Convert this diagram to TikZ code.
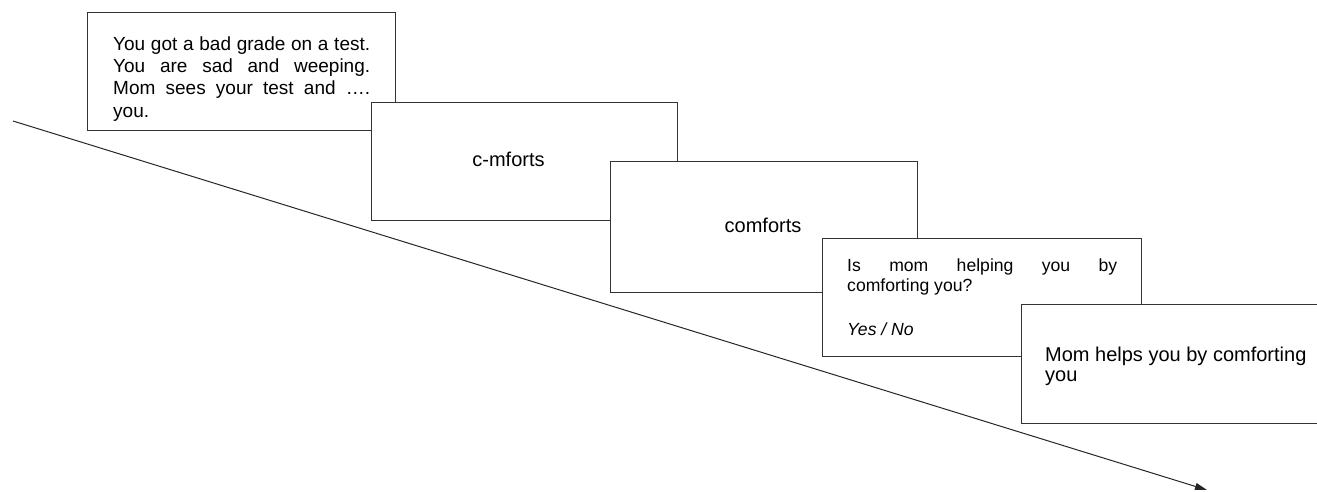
\documentclass[tikz,border=0pt]{standalone}
\usepackage{fontspec}
\setmainfont{Liberation Sans}
\usetikzlibrary{arrows.meta}
\begin{document}
\begin{tikzpicture}[x=1pt,y=-1pt,
  card/.style={draw=black!80, line width=1.2pt, fill=white, rectangle, inner sep=0pt, anchor=north west},
  txt/.style={inner sep=0pt, anchor=base west, align=left},
  ctxt/.style={inner sep=0pt, anchor=base, font=\fontsize{20}{22}\selectfont},
  arr/.style={line width=1pt, draw=black!85, -{Triangle[length=12pt,width=7pt]}}
]
\useasboundingbox (0,0) rectangle (1317,491);
% time arrow
\coordinate (s) at (13,121);
\coordinate (e) at (1207,490);
\draw[arr] (s) -- (e);
% cards (text nodes anchored at the baseline of their last line)
\node[card, minimum width=308pt, minimum height=118pt] (b1) at (87,12) {};
\node[txt, font=\fontsize{19}{22.3}\selectfont] (t1) at (113,117)
  {\makebox[257pt][s]{You got a bad grade on a test.}\\
   \makebox[257pt][s]{You are sad and weeping.}\\
   \makebox[257pt][s]{Mom sees your test and ….}\\
   you.};
\node[card, minimum width=306pt, minimum height=118pt] (b2) at (371,102) {};
\node[ctxt] (t2) at (508.5,166) {c-mforts};
\node[card, minimum width=307pt, minimum height=131pt] (b3) at (610,161) {};
\node[ctxt] (t3) at (763,232.5) {comforts};
\node[card, minimum width=319pt, minimum height=118pt] (b4) at (822,238) {};
\node[txt, font=\fontsize{17.6}{20}\selectfont] (t4) at (847,335.5)
  {\makebox[270pt][s]{Is mom helping you by}\\
   comforting you?\\[24.5pt]
   \textit{Yes / No}};
\node[card, minimum width=320pt, minimum height=119pt] (b5) at (1021,304) {};
\node[txt, font=\fontsize{20}{20}\selectfont] (t5) at (1045,381)
  {Mom helps you by comforting\\ you};
\end{tikzpicture}
\end{document}
